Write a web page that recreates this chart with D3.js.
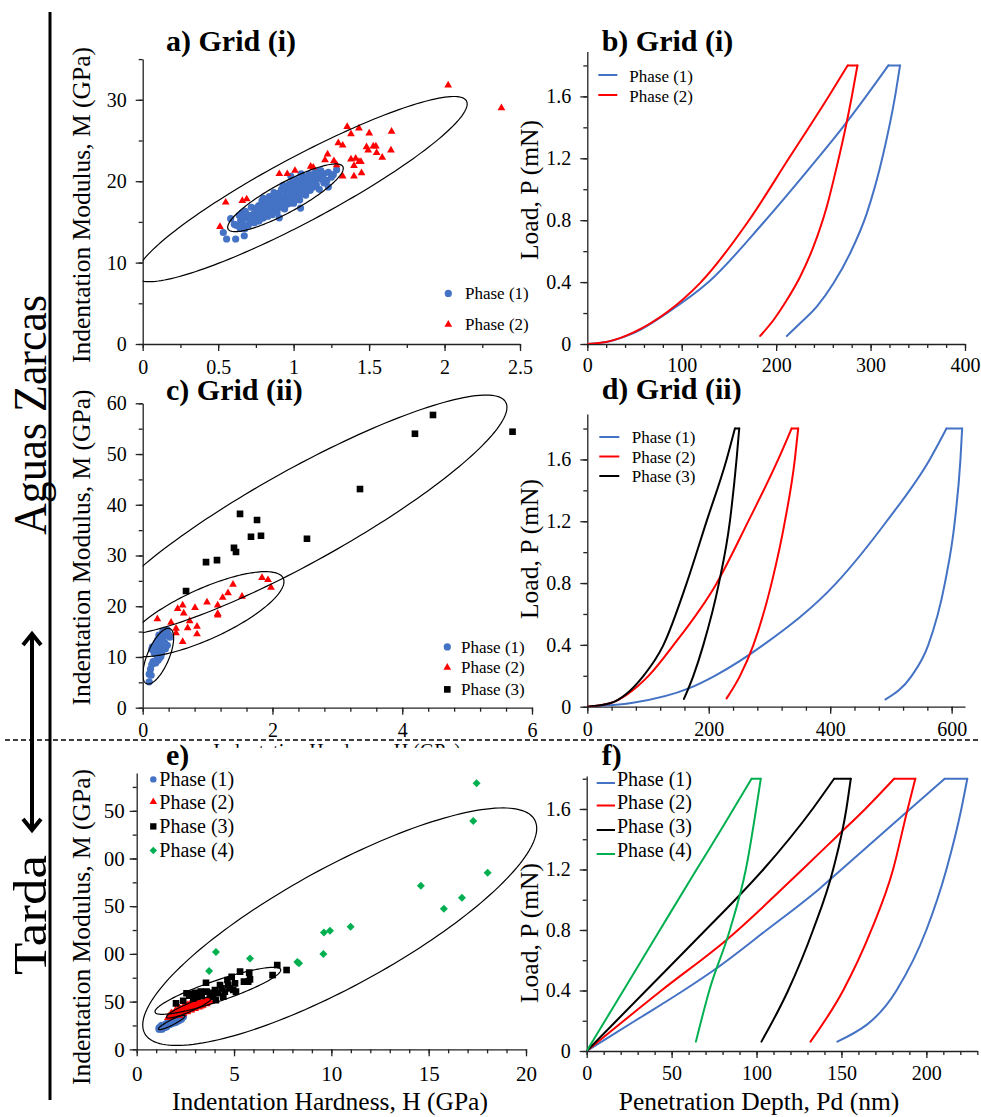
<!DOCTYPE html>
<html><head><meta charset="utf-8">
<script src="https://cdn.jsdelivr.net/npm/d3@7"></script>
<style>body{margin:0;background:#fff}svg{display:block}</style>
</head><body><svg id="fig" width="981" height="1117"></svg>
<script>
// ---------------- DATA ----------------
const phaseNames2 = ["Phase (1)", "Phase (2)"];
const phaseNames3 = ["Phase (1)", "Phase (2)", "Phase (3)"];
const phaseNames4 = ["Phase (1)", "Phase (2)", "Phase (3)", "Phase (4)"];

// a) Grid (i): hardness (GPa) vs modulus (GPa)
const aPhase1 = [
[0.534,13.7],[0.556,12.9],[0.616,12.9],[0.673,13.3],[0.583,15.4],[0.607,14.7],[0.649,15.2],[0.660,16.1],[0.645,14.2],[0.678,14.2],[1.263,20.8],[1.285,21.4],[1.230,19.3],[0.905,15.5],[0.982,20.6],[1.046,16.7],
[0.62,14.6],[0.64,15.8],[0.66,14.9],[0.68,15.5],[0.68,16.3],[0.70,14.6],[0.71,15.2],[0.72,16.8],[0.73,15.9],[0.74,14.9],[0.75,16.4],[0.76,15.6],[0.77,17.0],[0.77,15.1],[0.78,16.2],[0.79,17.6],[0.80,15.5],[0.80,16.8],[0.81,16.0],[0.82,17.3],[0.83,15.7],[0.83,16.6],[0.84,18.1],[0.85,16.9],[0.86,15.9],[0.86,17.5],[0.87,16.4],[0.88,18.0],[0.88,17.1],[0.89,16.2],[0.90,17.7],[0.90,18.5],[0.91,16.8],[0.92,17.4],[0.92,19.0],[0.93,18.1],[0.94,16.6],[0.94,17.8],[0.95,18.6],[0.96,17.2],[0.96,19.3],[0.97,18.2],[0.98,17.6],[0.98,18.9],[0.99,19.8],[1.00,18.4],[1.00,17.3],[1.01,19.1],[1.02,18.0],[1.02,20.2],[1.03,18.8],[1.04,19.5],[1.04,17.7],[1.05,18.5],[1.06,19.9],[1.06,20.6],[1.07,19.2],[1.08,18.3],[1.08,20.1],[1.09,19.6],[1.10,20.8],[1.10,18.9],[1.11,19.9],[1.12,20.4],[1.13,19.3],[1.14,21.0],[1.14,20.0],[1.15,19.6],[1.16,20.6],[1.17,19.0],[1.18,20.3],[1.18,21.3],[1.20,19.8],[1.20,20.9],[1.22,20.1],[1.23,21.1],[1.25,20.5],
[0.70,15.8],[0.74,16.0],[0.78,15.4],[0.82,16.0],[0.85,17.7],[0.87,18.6],[0.89,17.0],[0.91,18.2],[0.93,16.9],[0.95,17.5],[0.97,19.6],[0.99,18.0],[1.01,17.9],[1.03,19.9],[1.05,20.9],[1.07,18.4],[1.09,20.4],[1.11,18.9],[1.13,20.8],[1.16,21.2],[0.76,16.8],[0.80,17.9],[0.84,15.9],[0.88,16.6],[0.92,17.9],[0.96,18.3],[1.00,19.4],[1.04,18.7],[1.08,19.3],[1.12,19.8],[0.66,15.5],[0.72,15.4],[0.79,16.5],[0.86,16.9],[0.93,19.5],[1.02,19.2],[1.19,20.4],[0.97,17.3]
];
const aPhase2 = [
[2.024,31.8],[2.377,29.0],[1.355,26.7],[1.433,26.5],[1.380,25.8],[1.501,25.9],[1.649,26.1],[1.296,24.7],[1.325,24.4],[1.483,24.2],[1.528,24.3],[1.545,24.3],[1.494,23.8],[1.550,23.5],[1.645,23.8],[1.587,22.9],[1.225,23.3],[1.208,22.6],[1.267,22.5],[1.380,22.7],[1.411,22.8],[1.433,22.4],[1.446,22.4],[1.400,21.9],[1.285,22.0],[1.113,21.8],[1.130,21.7],[1.009,21.3],[0.905,20.9],[0.958,20.9],[1.325,20.6],[1.400,20.6],[1.450,21.0],[0.550,17.4],[0.660,17.6],[0.689,17.8],[0.512,14.4]
];
// b) Grid (i): depth (nm) vs load (mN)
const bPhase1Load = [[0,0],[25,0.02],[49,0.07],[84.3,0.2],[128.4,0.4],[186,0.78],[240,1.17],[268,1.38],[294,1.59],[318.9,1.8]];
const bPhase1Unload = [[211.3,0.052],[225.4,0.134],[243,0.241],[260.7,0.392],[278.3,0.586],[296,0.844],[313.6,1.232],[325.9,1.598],[331.2,1.8]];
const bPhase2Load = [[0,0],[25,0.02],[49,0.075],[84.3,0.205],[119.6,0.395],[170.7,0.795],[213,1.195],[255.4,1.598],[275.8,1.8]];
const bPhase2Unload = [[183.1,0.052],[197.2,0.155],[211.3,0.284],[225.4,0.435],[239.5,0.629],[253.6,0.887],[264.2,1.146],[273,1.383],[280.1,1.598],[286.1,1.8]];

// c) Grid (ii)
const cPhase1 = [[0.10,5.1],[0.10,6.6],[0.13,6.4],[0.12,7.6],[0.14,8.5],[0.16,9.1],[0.19,9.1],[0.21,9.1],[0.24,9.4],[0.18,10.7],[0.21,11.4],[0.26,11.4],[0.15,12.0],[0.19,12.0],[0.24,12.0],[0.29,11.8],[0.21,12.8],[0.26,13.1],[0.31,12.5],[0.34,12.8],[0.25,14.3],[0.32,13.9],[0.38,15.3],[0.42,13.9],[0.38,12.3],[0.35,11.6],[0.29,10.7],[0.26,9.8],[0.28,10.1],[0.22,10.3],[0.17,11.2],[0.27,12.5],[0.30,13.5],[0.33,14.6],[0.36,14.9],[0.23,13.3],[0.20,8.8],[0.14,11.5],[0.31,15.0],[0.40,14.4]];
const cPhase2 = [[0.226,17.5],[0.437,16.8],[0.514,15.6],[0.514,14.7],[0.539,19.5],[0.616,20.2],[0.632,18.6],[0.616,13.0],[0.693,15.7],[0.724,17.1],[0.806,19.7],[0.837,16.0],[0.837,14.5],[0.991,20.8],[1.156,20.2],[1.156,18.5],[1.156,18.2],[1.233,21.7],[1.315,22.6],[1.392,24.3],[1.531,21.9],[1.839,25.6],[1.931,25.2],[1.977,23.7]];
const cPhase3 = [[0.668,23.0],[0.976,28.7],[1.145,29.1],[1.407,31.5],[1.438,30.7],[1.50,38.2],[1.669,33.7],[1.762,37.0],[1.823,33.9],[2.532,33.3],[3.349,43.1],[4.196,54.0],[4.474,57.7],[5.70,54.4]];

// d) Grid (ii)
const dPhase1Load = [[0,0],[75,0.025],[168,0.12],[210,0.2],[290,0.4],[410,0.8],[493,1.2],[564,1.6],[591.5,1.8]];
const dPhase1Unload = [[491.1,0.047],[533.9,0.198],[561.3,0.397],[588.8,0.798],[605.2,1.199],[614.5,1.6],[617.3,1.8]];
const dPhase2Load = [[0,0],[37.3,0.022],[100.4,0.198],[141.6,0.397],[212.9,0.798],[265,1.199],[314.4,1.6],[336.4,1.8]];
const dPhase2Unload = [[229.4,0.054],[251.3,0.198],[273.3,0.397],[303.4,0.798],[325.4,1.199],[341.8,1.6],[347.3,1.8]];
const dPhase3Load = [[0,0],[37.3,0.022],[92.2,0.198],[125.1,0.397],[163.5,0.798],[196.4,1.199],[229.4,1.6],[243.1,1.8]];
const dPhase3Unload = [[159.1,0.05],[174.5,0.198],[190.9,0.397],[216.7,0.798],[234.8,1.199],[245.8,1.6],[250.2,1.8]];

// e) Tarda
const ePhase1 = [[1.15,21],[1.2,23],[1.25,22],[1.3,24],[1.35,23],[1.4,25],[1.45,24],[1.5,26],[1.55,25],[1.6,27],[1.7,26],[1.75,28],[1.8,27],[1.9,29],[2.0,30],[2.1,31],[2.2,32],[2.3,33],[2.4,34],[1.3,21],[1.5,23],[1.65,29],[1.85,30],[2.0,28],
[1.2,21.5],[1.25,24],[1.35,22],[1.4,23.5],[1.45,26],[1.55,24],[1.6,25.5],[1.7,27.5],[1.8,28.5],[1.9,27.5],[2.0,29],[2.1,29.5],[2.2,30.5],[2.3,31.5],[1.15,22.5],[1.28,25],[1.58,28],[1.95,31],[2.25,33.5]];
const ePhase2 = [[1.6,33],[1.7,35],[1.8,34],[1.9,37],[2.0,36],[2.0,39],[2.1,38],[2.2,40],[2.2,37],[2.3,41],[2.4,39],[2.4,43],[2.5,42],[2.6,40],[2.6,44],[2.7,43],[2.8,45],[2.8,42],[2.9,46],[3.0,44],[3.0,47],[3.1,46],[3.2,48],[3.3,47],[3.4,49],[3.5,48],[3.6,50],[3.7,51],[3.8,50],[1.9,35],[2.3,38],[2.5,45],[2.9,43],[3.3,45],[2.1,41],[1.75,37],[2.7,47],[3.5,51],
[1.65,34.5],[1.85,36],[1.95,38.5],[2.05,37],[2.15,39.5],[2.25,42],[2.35,40],[2.45,41.5],[2.55,43],[2.65,42],[2.75,44],[2.85,44.5],[2.95,45],[3.05,45.5],[3.15,47],[3.25,48.5],[3.35,48],[3.45,50],[3.55,49],[3.65,51.5],[2.2,35.5],[2.4,37.5],[2.6,39],[2.8,41],[3.0,42.5],[3.2,44],[3.4,46],[3.6,47.5],[1.8,38],[2.0,41],[2.2,43],[2.4,45],[2.6,46.5],[2.8,48],[3.0,49.5],[3.2,51]];
const ePhase3 = [[2.02,48.2],[2.39,50.9],[2.70,56.2],[2.99,59.3],[3.29,60.4],[3.56,69.8],[3.59,60.4],[3.85,59.3],[4.02,62.1],[4.07,51.6],[4.28,67.4],[4.45,55.2],[4.53,60.4],[4.66,72.6],[4.79,63.9],[4.88,76.1],[5.05,69.1],[5.10,60.4],[5.31,81.4],[5.51,70.9],[5.73,70.9],[5.78,80.3],[5.82,73.3],[6.98,77.8],[7.22,88.3],[7.70,83.1],[3.08,55.2],[3.34,55.9],[3.76,57.0],[2.91,53.4],[4.19,58.7],[4.36,63.9],[3.93,55.2],[4.70,67.4],[4.96,62.1],[2.56,58.7],[2.82,58.0]];
const ePhase4 = [[17.46,278.8],[17.29,239.2],[18.03,185.1],[14.60,171.5],[15.78,147.4],[16.71,158.9],[10.99,128.5],[9.93,124.3],[9.62,122.3],[9.59,99.9],[8.25,91.4],[8.34,90.1],[5.82,95.3],[4.07,101.9],[3.72,82.1]];

// f) Tarda
const fPhase1Load = [[0,0],[28.5,0.2],[57,0.4],[76.5,0.547],[106,0.8],[137.3,1.075],[150,1.2],[188.6,1.582],[210.8,1.8]];
const fPhase1Unload = [[147.6,0.062],[182.4,0.4],[200,0.8],[211.8,1.2],[220.6,1.6],[224.1,1.8]];
const fPhase2Load = [[0,0],[44,0.4],[82.3,0.734],[127,1.2],[147.1,1.417],[164,1.6],[181,1.8]];
const fPhase2Unload = [[131.8,0.062],[151,0.4],[167.6,0.8],[180.4,1.2],[188.6,1.582],[193.5,1.8]];
const fPhase3Load = [[0,0],[35,0.4],[70,0.8],[87.3,0.998],[104,1.2],[133,1.6],[145.7,1.8]];
const fPhase3Unload = [[102.9,0.062],[118.6,0.4],[133.3,0.8],[145.1,1.2],[152.9,1.6],[155.5,1.8]];
const fPhase4Load = [[0,0],[21.6,0.4],[43.1,0.8],[64.7,1.2],[81.4,1.505],[97.1,1.8]];
const fPhase4Unload = [[64.3,0.062],[72.2,0.4],[84.3,0.8],[93.7,1.2],[102.5,1.8]];

// cluster ellipses (centre, conjugate semi-diameters, data units)
const aEllipses = [{c:[1.053,19.03],u:[1.097,10.46],v:[0,4.47]},{c:[0.946,17.96],u:[0.383,3.62],v:[0,2.05]}];
const cEllipses = [{c:[2.455,37.9],u:[3.159,21.3],v:[0,10.45]},{c:[0.955,18.44],u:[1.222,6.41],v:[0,5.40]},{c:[0.240,10.16],u:[0.154,5.49],v:[0.180,0]}];
const eEllipses = [{c:[10.43,128.5],u:[10.12,103.0],v:[0,69.9]},{c:[4.17,61.3],u:[3.23,21.8],v:[0,11.5]},{c:[2.70,43.8],u:[1.166,9.96],v:[0,4.7]},{c:[1.80,28.1],u:[0.683,6.8],v:[0,3.1]}];

// tick labels
const aXTicks=[0,0.5,1,1.5,2,2.5], aYTicks=[0,10,20,30];
const bXTicks=[0,100,200,300,400], bYTicks=[0,0.4,0.8,1.2,1.6];
const cXTicks=[0,2,4,6], cYTicks=[0,10,20,30,40,50,60];
const dXTicks=[0,200,400,600], dYTicks=[0,0.4,0.8,1.2,1.6];
const eXTicks=[0,5,10,15,20], eYTicks=[0,50,100,150,200,250];
const fXTicks=[0,50,100,150,200], fYTicks=[0,0.4,0.8,1.2,1.6];

// ---------------- DRAWING ----------------
const FONT = '"Liberation Serif","Times New Roman",Times,serif';
const BLUE="#4472C4", RED="#FF0000", BLACK="#000000", GREEN="#00B050";
const svg = d3.select("#fig");
svg.append("rect").attr("width",981).attr("height",1117).attr("fill","#fff");
const defs = svg.append("defs");
const rng = (max, step) => d3.range(0, max + step/1000, step).map(v => +v.toFixed(5));

function makePanel(id, o) {
  const x = d3.scaleLinear().domain(o.xdom).range([o.x0, o.x1]);
  const y = d3.scaleLinear().domain(o.ydom).range([o.y0, o.yt]);
  const g = svg.append("g");
  const style = s => { s.selectAll("line,path").attr("stroke","#222").attr("stroke-width",1.3); s.selectAll("text").attr("fill","#000"); s.attr("font-family",FONT).attr("font-size",o.tickFont); };
  g.append("g").attr("transform",`translate(0,${o.y0})`)
    .call(d3.axisBottom(x).tickValues(rng(o.xMinorMax, o.xMinor)).tickSize(4).tickFormat("").tickSizeOuter(0))
    .call(s=>s.select(".domain").remove()).call(style);
  g.append("g").attr("transform",`translate(${o.x0},0)`)
    .call(d3.axisLeft(y).tickValues(rng(o.yMinorMax, o.yMinor)).tickSize(4).tickFormat("").tickSizeOuter(0))
    .call(s=>s.select(".domain").remove()).call(style);
  g.append("g").attr("transform",`translate(0,${o.y0})`)
    .call(d3.axisBottom(x).tickValues(o.xTicks).tickSize(7).tickPadding(o.xPad).tickSizeOuter(0).tickFormat(d=>String(d)))
    .call(style);
  const ya = g.append("g").attr("transform",`translate(${o.x0},0)`)
    .call(d3.axisLeft(y).tickValues(o.yTicks).tickSize(7).tickPadding(o.yPad).tickSizeOuter(0).tickFormat(d=>String(d)))
    .call(style);
  if (o.yLabelClip !== undefined) {
    defs.append("clipPath").attr("id","ylc"+id).append("rect").attr("x",o.yLabelClip - o.x0).attr("y",0).attr("width",200).attr("height",1117);
    ya.attr("clip-path",`url(#ylc${id})`);
  }
  defs.append("clipPath").attr("id","clip"+id).append("rect")
    .attr("x",o.x0).attr("y",0).attr("width",981-o.x0).attr("height",o.y0);
  const plot = svg.append("g").attr("clip-path",`url(#clip${id})`);
  svg.append("text").attr("x",o.tx).attr("y",o.ty).text(o.title)
    .attr("font-family",FONT).attr("font-weight","bold").attr("font-size",30).attr("fill","#000");
  if (o.ylab) svg.append("text").attr("transform",`translate(${o.ylx},${o.yly}) rotate(-90)`)
    .attr("text-anchor","middle").attr("font-family",FONT).attr("font-size",25.5).attr("fill","#000").text(o.ylab);
  if (o.xlab) svg.append("text").attr("x",o.xlx).attr("y",o.xly)
    .attr("text-anchor","middle").attr("font-family",FONT).attr("font-size",25.5).attr("fill","#000").text(o.xlab);
  return {x, y, plot, g};
}

function dots(P, data, color, r) {
  P.plot.append("g").selectAll("circle").data(data).join("circle")
    .attr("cx",d=>P.x(d[0])).attr("cy",d=>P.y(d[1])).attr("r",r).attr("fill",color);
}
function syms(P, data, type, size, color, rot) {
  P.plot.append("g").selectAll("path").data(data).join("path")
    .attr("d", d3.symbol(type, size)())
    .attr("transform", d=>`translate(${P.x(d[0])},${P.y(d[1])}) rotate(${rot||0})`)
    .attr("fill", color);
}
function ellipses(P, list, unclipped) {
  const tgt = unclipped ? svg.append("g") : P.plot;
  list.forEach(e => {
    const pts = d3.range(0, 361, 2).map(t => { const r = t*Math.PI/180;
      return [P.x(e.c[0]+e.u[0]*Math.cos(r)+e.v[0]*Math.sin(r)), P.y(e.c[1]+e.u[1]*Math.cos(r)+e.v[1]*Math.sin(r))]; });
    tgt.append("path").attr("d", d3.line()(pts)+"Z").attr("fill","none").attr("stroke","#000").attr("stroke-width",1.2);
  });
}
function curve(P, load, unload, color) {
  const mono = d3.line().x(d=>P.x(d[0])).y(d=>P.y(d[1])).curve(d3.curveMonotoneX);
  const lin = d3.line().x(d=>P.x(d[0])).y(d=>P.y(d[1]));
  const g = P.plot.append("g").attr("fill","none").attr("stroke",color).attr("stroke-width",2).attr("stroke-linejoin","round").attr("stroke-linecap","round");
  g.append("path").attr("d", mono(load));
  g.append("path").attr("d", lin([load[load.length-1], unload[unload.length-1]]));
  g.append("path").attr("d", mono(unload));
}
function lineLegend(names, colors, x1, x2, tx, rowsY, lineDy, font) {
  names.forEach((n,i) => {
    svg.append("line").attr("x1",x1).attr("x2",x2).attr("y1",rowsY[i]+lineDy).attr("y2",rowsY[i]+lineDy).attr("stroke",colors[i]).attr("stroke-width",2);
    svg.append("text").attr("x",tx).attr("y",rowsY[i]).attr("font-family",FONT).attr("font-size",font).attr("fill","#000").text(n);
  });
}
function symLegend(names, specs, mx, tx, rowsY, font) {
  names.forEach((n,i) => {
    const s = specs[i];
    if (s.type === "circle") svg.append("circle").attr("cx",mx).attr("cy",rowsY[i]-font*0.33).attr("r",s.size).attr("fill",s.color);
    else svg.append("path").attr("d",d3.symbol(s.type,s.size)()).attr("transform",`translate(${mx},${rowsY[i]-font*0.33}) rotate(${s.rot||0})`).attr("fill",s.color);
    svg.append("text").attr("x",tx).attr("y",rowsY[i]).attr("font-family",FONT).attr("font-size",font).attr("fill","#000").text(n);
  });
}

// ----- Panel a -----
const A = makePanel("a",{x0:142.7,x1:520,y0:344,yt:59.1,xdom:[0,2.5],ydom:[0,35],xTicks:aXTicks,yTicks:aYTicks,
  xMinor:0.25,xMinorMax:2.5,yMinor:5,yMinorMax:35,xPad:9,yPad:9,tickFont:20,
  title:"a) Grid (i)",tx:166,ty:51,ylab:"Indentation Modulus, M (GPa)",ylx:90,yly:205});
dots(A, aPhase1, BLUE, 3.6);
syms(A, aPhase2, d3.symbolTriangle, 26, RED);
ellipses(A, aEllipses);
symLegend(phaseNames2,[{type:"circle",size:3.6,color:BLUE},{type:d3.symbolTriangle,size:26,color:RED}],448.3,465,[299,330],17);

// ----- Panel b -----
const B = makePanel("b",{x0:587.3,x1:965,y0:344,yt:51.5,xdom:[0,400],ydom:[0,1.89],xTicks:bXTicks,yTicks:bYTicks,
  xMinor:20,xMinorMax:400,yMinor:0.2,yMinorMax:1.8,xPad:7,yPad:9,tickFont:20,
  title:"b) Grid (i)",tx:601.7,ty:51,ylab:"Load, P (mN)",ylx:538,yly:190});
curve(B, bPhase1Load, bPhase1Unload, BLUE);
curve(B, bPhase2Load, bPhase2Unload, RED);
lineLegend(phaseNames2,[BLUE,RED],598.3,617.3,629.3,[82,102],-7,17);

// ----- Panel c -----
const C = makePanel("c",{x0:142.7,x1:532,y0:707.7,yt:403.3,xdom:[0,6],ydom:[0,60],xTicks:cXTicks,yTicks:cYTicks,
  xMinor:0.4,xMinorMax:6,yMinor:5,yMinorMax:60,xPad:8,yPad:9,tickFont:20,
  title:"c) Grid (ii)",tx:166,ty:400,ylab:"Indentation Modulus, M (GPa)",ylx:90,yly:547.5});
dots(C, cPhase1, BLUE, 3.6);
syms(C, cPhase2, d3.symbolTriangle, 26, RED);
syms(C, cPhase3, d3.symbolSquare, 44, BLACK);
ellipses(C, cEllipses);
symLegend(phaseNames3,[{type:"circle",size:3.6,color:BLUE},{type:d3.symbolTriangle,size:26,color:RED},{type:d3.symbolSquare,size:44,color:BLACK}],447.3,461,[652.5,673,695],17);
// x-axis title of panel c, mostly hidden under panel e (only its top edge shows)
svg.append("text").attr("x",337).attr("y",757.5).attr("text-anchor","middle").attr("font-family",FONT).attr("font-size",20).attr("fill","#000").text("Indentation Hardness, H (GPa)");
svg.append("rect").attr("x",60).attr("y",747.8).attr("width",480).attr("height",30).attr("fill","#fff");

// ----- Panel d -----
const D = makePanel("d",{x0:587.3,x1:965,y0:706.7,yt:414,xdom:[0,622],ydom:[0,1.894],xTicks:dXTicks,yTicks:dYTicks,
  xMinor:40,xMinorMax:600,yMinor:0.2,yMinorMax:1.8,xPad:8,yPad:9,tickFont:20,
  title:"d) Grid (ii)",tx:601.7,ty:399,ylab:"Load, P (mN)",ylx:538,yly:549});
curve(D, dPhase1Load, dPhase1Unload, BLUE);
curve(D, dPhase2Load, dPhase2Unload, RED);
curve(D, dPhase3Load, dPhase3Unload, BLACK);
lineLegend(phaseNames3,[BLUE,RED,BLACK],599.3,619.3,631.7,[443,462.5,482],-6,17);

// ----- Panel e -----
const E = makePanel("e",{x0:136.7,x1:526,y0:1049.3,yt:773,xdom:[0,20],ydom:[0,289.6],xTicks:eXTicks,yTicks:eYTicks,
  xMinor:1,xMinorMax:20,yMinor:25,yMinorMax:275,xPad:10,yPad:5,tickFont:21,yLabelClip:104.7,
  title:"e)",tx:166,ty:765,ylab:"Indentation Modulus, M (GPa)",ylx:90,yly:927,
  xlab:"Indentation Hardness, H (GPa)",xlx:330,xly:1110});
dots(E, ePhase1, BLUE, 3.6);
syms(E, ePhase2, d3.symbolTriangle, 26, RED);
syms(E, ePhase3, d3.symbolSquare, 44, BLACK);
syms(E, ePhase4, d3.symbolSquare, 32, GREEN, 45);
ellipses(E, eEllipses, true);
symLegend(phaseNames4,[{type:"circle",size:3.2,color:BLUE},{type:d3.symbolTriangle,size:24,color:RED},{type:d3.symbolSquare,size:40,color:BLACK},{type:d3.symbolSquare,size:28,color:GREEN,rot:45}],153.3,159.3,[786,808.5,833,857],20);

// ----- Panel f -----
const F = makePanel("f",{x0:586.7,x1:977.3,y0:1051,yt:776,xdom:[0,230],ydom:[0,1.818],xTicks:fXTicks,yTicks:fYTicks,
  xMinor:10,xMinorMax:230,yMinor:0.2,yMinorMax:1.8,xPad:8,yPad:9,tickFont:20,
  title:"f)",tx:601.7,ty:765,ylab:"Load, P (mN)",ylx:538,yly:933,
  xlab:"Penetration Depth, Pd (nm)",xlx:759,xly:1110});
curve(F, fPhase1Load, fPhase1Unload, BLUE);
curve(F, fPhase2Load, fPhase2Unload, RED);
curve(F, fPhase3Load, fPhase3Unload, BLACK);
curve(F, fPhase4Load, fPhase4Unload, GREEN);
lineLegend(phaseNames4,[BLUE,RED,BLACK,GREEN],596.7,615,617,[786,808.5,833,857],-3,20);

// ----- side annotations -----
svg.append("line").attr("x1",5).attr("x2",981).attr("y1",740).attr("y2",740).attr("stroke","#000").attr("stroke-width",1.6).attr("stroke-dasharray","5,3");
svg.append("line").attr("x1",50).attr("x2",50).attr("y1",12).attr("y2",1100).attr("stroke","#000").attr("stroke-width",3);
svg.append("text").attr("transform","translate(46,415) rotate(-90)").attr("text-anchor","middle")
  .attr("font-family",FONT).attr("font-size",46).attr("textLength",240).attr("lengthAdjust","spacingAndGlyphs").attr("fill","#000").text("Aguas Zarcas");
svg.append("text").attr("transform","translate(46,915) rotate(-90)").attr("text-anchor","middle")
  .attr("font-family",FONT).attr("font-size",46).attr("textLength",120).attr("lengthAdjust","spacingAndGlyphs").attr("fill","#000").text("Tarda");
const arr = svg.append("g").attr("stroke","#000").attr("stroke-width",4).attr("fill","none").attr("stroke-linecap","butt");
arr.append("line").attr("x1",32).attr("x2",32).attr("y1",634).attr("y2",830);
arr.append("polyline").attr("points","23,645 32,634 41,645");
arr.append("polyline").attr("points","23,819 32,830 41,819");
</script></body></html>
